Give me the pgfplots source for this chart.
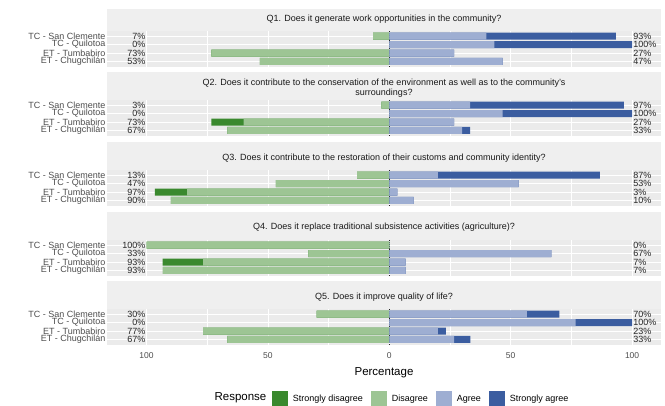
\documentclass[border=0pt]{standalone}
\usepackage{fontspec}
\setmainfont{Liberation Sans}
\usepackage{pgfplots}
\usepackage{pgfplotstable}
\pgfplotsset{compat=1.18}
\definecolor{sdcol}{HTML}{3A892E}
\definecolor{dcol}{HTML}{9DC594}
\definecolor{acol}{HTML}{9EAED2}
\definecolor{sacol}{HTML}{3B5DA0}
\definecolor{panelgray}{HTML}{EBEBEB}
\definecolor{stripgray}{HTML}{EFEFEF}
\definecolor{gray30}{HTML}{4D4D4D}

% row: 3 = TC - San Clemente, 2 = TC - Quilotoa, 1 = ET - Tumbabiro, 0 = ET - Chugchilan
% sd = strongly disagree, d = disagree, a = agree, sa = strongly agree (percent)
% pl / pr = printed totals left / right
\pgfplotstableread{
row sd d a sa pl pr
3 0 6.7 40 53.3 7 93
2 0 0 43.3 56.7 0 100
1 0 73.3 26.7 0 73 27
0 0 53.3 46.7 0 53 47
}\Qone
\pgfplotstableread{
row sd d a sa pl pr
3 0 3.3 33.3 63.3 3 97
2 0 0 46.7 53.3 0 100
1 13.3 60 26.7 0 73 27
0 0 66.7 30 3.3 67 33
}\Qtwo
\pgfplotstableread{
row sd d a sa pl pr
3 0 13.3 20 66.7 13 87
2 0 46.7 53.3 0 47 53
1 13.3 83.3 3.3 0 97 3
0 0 90 10 0 90 10
}\Qthree
\pgfplotstableread{
row sd d a sa pl pr
3 0 100 0 0 100 0
2 0 33.3 66.7 0 33 67
1 16.7 76.7 6.7 0 93 7
0 0 93.3 6.7 0 93 7
}\Qfour
\pgfplotstableread{
row sd d a sa pl pr
3 0 30 56.7 13.3 30 70
2 0 0 76.7 23.3 0 100
1 0 76.7 20 3.3 77 23
0 0 66.7 26.7 6.7 67 33
}\Qfive

\pgfplotsset{
  /pgf/number format/assume math mode=true,
  panel/.style={
    scale only axis, width=554pt, height=36pt,
    xmin=-116.3, xmax=111.9, ymin=-0.65, ymax=3.6,
    axis background/.style={fill=panelgray},
    axis line style={draw=none},
    tick style={draw=none},
    xtick={-100,-50,0,50,100}, minor xtick={-75,-25,25,75},
    xticklabels={},
    ytick={0,1,2,3},
    yticklabels={ET - Chugchilán,ET - Tumbabiro,TC - Quilotoa,TC - San Clemente},
    yticklabel style={font=\fontsize{9}{9}\selectfont, text=gray30, inner sep=0pt, xshift=-1.5pt},
    grid=both,
    major grid style={white, line width=0.9pt},
    minor grid style={white, line width=0.5pt},
    extra x ticks={0}, extra x tick labels={},
    extra x tick style={grid=major, major grid style={black!85, line width=0.5pt, dash pattern=on 1.5pt off 0.7pt}},
  },
  barsty/.style={xbar, bar width=7pt, bar shift=0pt, draw=none, forget plot},
  lblsty/.style={only marks, mark=none, forget plot, nodes near coords={\pgfmathprintnumber{\pgfplotspointmeta}\%},
    point meta=explicit,
    every node near coord/.append style={font=\fontsize{9}{9}\selectfont, text=black!85, inner sep=1pt}},
}

\newcommand{\panelplots}[1]{%
  \addplot[barsty, fill=sdcol] table[x expr={-\thisrow{sd}-\thisrow{d}}, y=row]{#1};
  \addplot[barsty, fill=dcol] table[x expr={-\thisrow{d}}, y=row]{#1};
  \addplot[barsty, fill=sacol] table[x expr={\thisrow{a}+\thisrow{sa}}, y=row]{#1};
  \addplot[barsty, fill=acol] table[x=a, y=row]{#1};
  \addplot[lblsty, every node near coord/.append style={anchor=east}] table[x expr=-100, y=row, meta=pl]{#1};
  \addplot[lblsty, every node near coord/.append style={anchor=west}] table[x expr=100, y=row, meta=pr]{#1};
}

\newcommand{\strip}[4]{% top, bottom, text y, text
  \fill[stripgray] (107pt,-#1pt) rectangle (661pt,-#2pt);
  \node[align=center, font=\fontsize{9}{10.5}\selectfont, text=black!90] at (384pt,-#3pt) {#4};
}

\begin{document}
\begin{tikzpicture}
\path[use as bounding box] (0pt,0pt) rectangle (665pt,-405pt);

\strip{9}{31}{19}{Q1. Does it generate work opportunities in the community?}
\begin{axis}[panel, at={(107pt,-31pt)}, anchor=north west]
\panelplots{\Qone}
\end{axis}

\strip{72}{100}{88}{Q2. Does it contribute to the conservation of the environment as well as to the community's\\surroundings?}
\begin{axis}[panel, at={(107pt,-100pt)}, anchor=north west]
\panelplots{\Qtwo}
\end{axis}

\strip{142}{170}{158}{Q3. Does it contribute to the restoration of their customs and community identity?}
\begin{axis}[panel, at={(107pt,-170pt)}, anchor=north west]
\panelplots{\Qthree}
\end{axis}

\strip{212}{240}{227}{Q4. Does it replace traditional subsistence activities (agriculture)?}
\begin{axis}[panel, at={(107pt,-240pt)}, anchor=north west]
\panelplots{\Qfour}
\end{axis}

\strip{281}{309}{297}{Q5. Does it improve quality of life?}
\begin{axis}[panel, at={(107pt,-309pt)}, anchor=north west,
  xticklabels={100,50,0,50,100},
  xticklabel style={font=\fontsize{8.5}{9}\selectfont, text=gray30, inner sep=0pt, yshift=-7pt},
  xlabel={Percentage},
  xlabel style={font=\fontsize{11.5}{12}\selectfont, inner sep=0pt, yshift=-9pt},
  legend columns=4,
  legend image code/.code={\fill[#1] (0pt,-8pt) rectangle (16pt,8pt);},
  legend style={at={(axis description cs:0.567,-1.5)}, anchor=center, draw=none, fill=none,
    font=\fontsize{9}{9}\selectfont, inner sep=0pt,
    /tikz/every odd column/.append style={column sep=3pt},
    /tikz/every even column/.append style={column sep=6pt}},
]
\panelplots{\Qfive}
\addlegendimage{fill=sdcol, draw=none}\addlegendentry{Strongly disagree}
\addlegendimage{fill=dcol, draw=none}\addlegendentry{Disagree}
\addlegendimage{fill=acol, draw=none}\addlegendentry{Agree}
\addlegendimage{fill=sacol, draw=none}\addlegendentry{Strongly agree}
\end{axis}
\node[font=\fontsize{11.5}{12}\selectfont] at (240.5pt,-398pt) {Response};
\end{tikzpicture}
\end{document}
